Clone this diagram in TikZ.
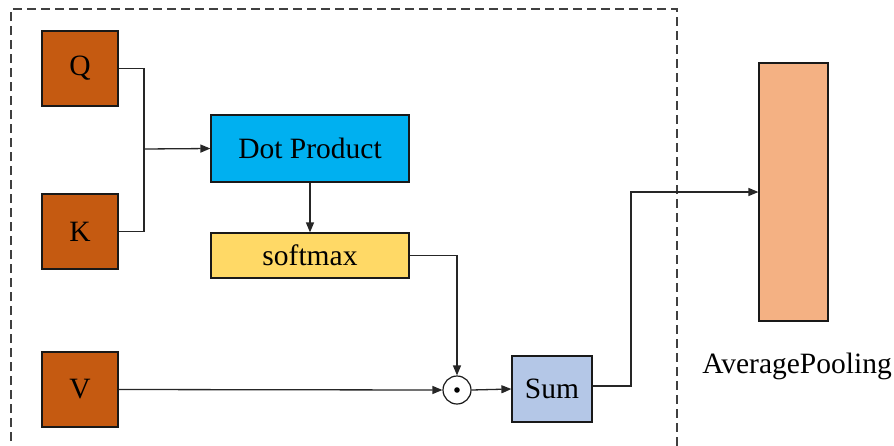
\documentclass[tikz,border=0pt]{standalone}
\usepackage{fontspec}
\setmainfont{Liberation Serif}
\usetikzlibrary{arrows.meta,calc}
\definecolor{qkv}{HTML}{C55A11}
\definecolor{dotc}{HTML}{00B0F0}
\definecolor{softc}{HTML}{FFD966}
\definecolor{sumc}{HTML}{B4C7E7}
\definecolor{apc}{HTML}{F4B183}
\definecolor{dashc}{HTML}{404040}
\tikzset{
  box/.style={draw=black!90, line width=1.2pt, inner sep=0pt, font=\fontsize{29.5}{32}\selectfont},
  conn/.style={draw=black!85, line width=1.3pt},
  arr/.style={conn, -{Triangle[length=10pt,width=8pt]}},
}
\begin{document}
\begin{tikzpicture}[x=1pt,y=-1pt]
\useasboundingbox (0,0) rectangle (894,445);
\draw[dashc, line width=1.3pt, dash pattern=on 9pt off 5pt] (11,455) -- (11,9) -- (677,9) -- (677,455);
\node[box, fill=qkv, minimum width=76pt, minimum height=75pt] (Q) at (80,68.5) {Q};
\node[box, fill=qkv, minimum width=76pt, minimum height=75pt] (K) at (80,231.5) {K};
\node[box, fill=qkv, minimum width=76pt, minimum height=75pt] (V) at (80,389.5) {V};
\node[box, fill=dotc, minimum width=198pt, minimum height=67pt] (dp) at (310,148.5) {Dot Product};
\node[box, fill=softc, minimum width=198pt, minimum height=45pt] (sm) at (310,255.5) {softmax};
\node[draw=black!90, line width=1.2pt, circle, minimum size=28pt, inner sep=0pt] (dot) at (457,390) {};
\fill (dot.center) circle (2.8pt);
\node[box, fill=sumc, minimum width=80pt, minimum height=66pt] (sum) at (552,389) {Sum};
\node[box, fill=apc, minimum width=69pt, minimum height=258pt] (ap) at (793.5,192) {};
\node[font=\fontsize{29.5}{32}\selectfont] (apl) at (797,366) {AveragePooling};
\coordinate (j) at (144,149);
\coordinate (t) at (631,192);
\draw[conn] (Q.east) -| (j) |- (K.east);
\draw[arr] (j) -- (dp.west);
\draw[arr] (dp.south) -- (sm.north);
\draw[arr] (sm.east) -| (dot.north);
\draw[arr] (V.east) -- (dot.west);
\draw[arr] (dot.east) -- (sum.west);
\draw[arr] ($(sum.east)+(0,-3)$) -| (t) -- (t -| ap.west);
\end{tikzpicture}
\end{document}
